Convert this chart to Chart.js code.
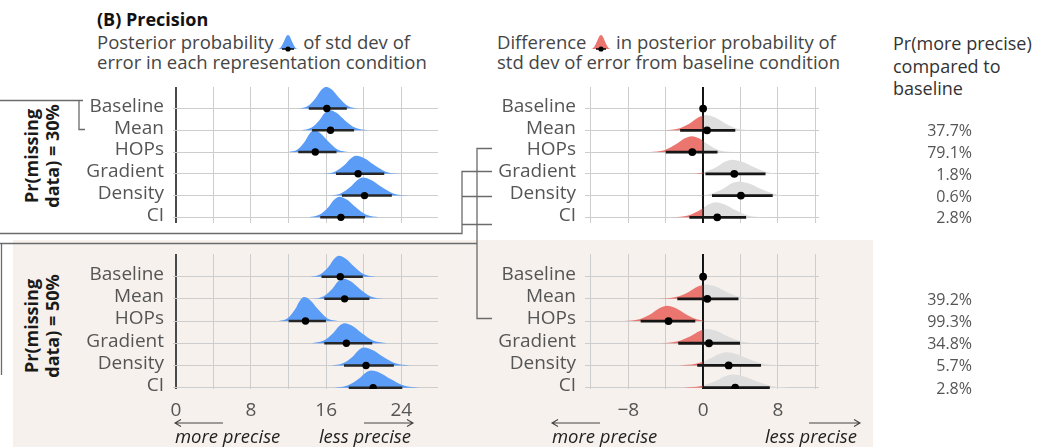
<!DOCTYPE html>
<html><head><meta charset="utf-8">
<script src="https://cdn.jsdelivr.net/npm/chart.js"></script>
<style>
body{margin:0;width:1049px;height:447px;background:#fff;position:relative;overflow:hidden;font-family:"Open Sans",Lato,sans-serif;}
.abs{position:absolute;white-space:nowrap;}
canvas{position:absolute;}
.grp{position:absolute;transform:translate(-50%,-50%) rotate(-90deg);font-weight:700;font-size:18px;line-height:21px;text-align:center;white-space:nowrap;color:#1a1a1a;}
.sub{font-size:18.5px;line-height:19.5px;color:#454545;}
.pct{position:absolute;width:100px;text-align:right;font-size:16px;color:#555;line-height:20px;}
.note{position:absolute;font-style:italic;font-size:18.5px;color:#222;white-space:nowrap;line-height:20px;}
</style></head><body>
<div class="abs" style="left:13px;top:240px;width:860px;height:207px;background:#F6F1EC"></div>

<div class="abs" style="left:97px;top:8px;font-weight:700;font-size:18px;line-height:22px;color:#111">(B) Precision</div>
<div class="abs sub" style="left:97px;top:32px">Posterior probability <svg width="20" height="18" viewBox="0 0 20 18" style="vertical-align:-3px"><path d="M0,15 C5,15 7,1 10,1 C13,1 15,15 20,15 Z" fill="#5B9CF6"/><line x1="4" y1="15" x2="16" y2="15" stroke="#000" stroke-width="1.5"/><circle cx="10" cy="15" r="2.6" fill="#000"/></svg> of std dev of<br>error in each representation condition</div>
<div class="abs sub" style="left:497px;top:32px">Difference <svg width="20" height="18" viewBox="0 0 20 18" style="vertical-align:-3px"><path d="M0,15 C5,15 7,1 10,1 C13,1 15,15 20,15 Z" fill="#EB7670"/><line x1="5" y1="15" x2="15" y2="15" stroke="#000" stroke-width="1.5"/><circle cx="10" cy="15" r="2.6" fill="#000"/></svg> in posterior probability of<br>std dev of error from baseline condition</div>
<div class="abs" style="left:893px;top:32px;font-size:18px;line-height:22.5px;color:#333">Pr(more precise)<br>compared to<br>baseline</div>

<div class="grp" style="left:42px;top:156px">Pr(missing<br>data) = 30%</div>
<div class="grp" style="left:42px;top:326px">Pr(missing<br>data) = 50%</div>

<canvas id="c30L" width="382" height="144" style="left:60px;top:83px"></canvas>
<canvas id="c30R" width="343" height="144" style="left:480px;top:83px"></canvas>
<canvas id="c50L" width="382" height="169" style="left:60px;top:250px"></canvas>
<canvas id="c50R" width="343" height="169" style="left:480px;top:250px"></canvas>

<svg class="abs" width="1049" height="447" style="left:0;top:0;pointer-events:none">
 <g stroke="#6b6b6b" stroke-width="1.3" fill="none">
  <path d="M0,100.5 H83 M79,100.5 V129.5 H85"/>
  <path d="M0,233.5 H462 V171.5 H492 M462,196.5 H492 M462,224.5 H492"/>
  <path d="M492,148.5 H477 V318.5 H492 M0,243.5 H477 M1.5,243.5 V375"/>
 </g>
 <g stroke="#444" stroke-width="1.1" fill="none">
  <path d="M175,423 H223 M181,419.5 L175,423 L181,426.5"/>
  <path d="M364,423 H413 M407,419.5 L413,423 L407,426.5"/>
  <path d="M552,423 H600 M558,419.5 L552,423 L558,426.5"/>
  <path d="M809,423 H860 M854,419.5 L860,423 L854,426.5"/>
 </g>
</svg>
<div class="note" style="left:175px;top:426px">more precise</div>
<div class="note" style="left:211px;width:200px;text-align:right;top:426px">less precise</div>
<div class="note" style="left:552px;top:426px">more precise</div>
<div class="note" style="left:657px;width:200px;text-align:right;top:426px">less precise</div>

<script>
// ---------- data ----------
const categories = ['Baseline', 'Mean', 'HOPs', 'Gradient', 'Density', 'CI'];

// Pr(missing data) = 30% : posterior of std dev of error
const p30Median = [16.07, 16.46, 14.84, 19.40, 20.08, 17.57];
const p30Lower  = [14.15, 14.50, 13.03, 17.04, 17.67, 15.37];
const p30Upper  = [18.20, 18.97, 17.10, 22.18, 22.99, 20.13];
const p30Peak   = [1.00, 0.93, 1.00, 0.83, 0.83, 0.95];
const p30Density = [
  [13.03, 14.05, 14.91, 15.47, 16.00, 16.66, 17.36, 18.32, 19.45],
  [13.36, 14.40, 15.28, 15.83, 16.35, 17.13, 17.97, 19.10, 20.43],
  [11.99, 12.94, 13.75, 14.24, 14.70, 15.42, 16.20, 17.21, 18.41],
  [15.68, 16.93, 17.98, 18.61, 19.20, 20.11, 21.08, 22.33, 23.80],
  [16.27, 17.55, 18.63, 19.29, 19.90, 20.83, 21.83, 23.13, 24.67],
  [14.10, 15.26, 16.25, 16.84, 17.40, 18.23, 19.12, 20.27, 21.63]
];

// Pr(missing data) = 50%
const p50Median = [17.50, 17.96, 13.80, 18.15, 20.24, 21.00];
const p50Lower  = [15.50, 15.80, 12.00, 15.80, 17.90, 18.40];
const p50Upper  = [19.90, 20.60, 15.97, 20.90, 23.20, 24.10];
const p50Peak   = [0.94, 0.92, 1.08, 0.90, 0.81, 0.77];
const p50Density = [
  [14.34, 15.40, 16.30, 16.84, 17.35, 18.12, 18.94, 20.01, 21.28],
  [14.55, 15.69, 16.66, 17.25, 17.80, 18.65, 19.55, 20.74, 22.15],
  [10.95, 11.90, 12.71, 13.20, 13.65, 14.36, 15.11, 16.09, 17.24],
  [14.43, 15.68, 16.73, 17.36, 17.95, 18.84, 19.80, 21.03, 22.49],
  [16.55, 17.79, 18.84, 19.44, 20.00, 20.98, 22.02, 23.35, 24.92],
  [16.88, 18.26, 19.43, 20.14, 20.80, 21.79, 22.86, 24.25, 25.90]
];

// differences from baseline, 30%
const d30Median = [0, 0.42, -1.16, 3.33, 4.04, 1.51];
const d30Lower  = [null, -2.46, -4.00, 0.25, 0.95, -1.47];
const d30Upper  = [null, 3.44, 1.54, 6.67, 7.44, 4.60];
const d30Peak   = [0, 0.70, 0.73, 0.65, 0.65, 0.69];
const d30Density = [
  null,
  [-4.14, -2.61, -1.31, -0.48, 0.30, 1.24, 2.24, 3.59, 5.19],
  [-5.66, -4.15, -2.87, -2.01, -1.20, -0.39, 0.47, 1.68, 3.12],
  [-1.54, 0.10, 1.48, 2.32, 3.10, 4.18, 5.34, 6.83, 8.60],
  [-0.86, 0.79, 2.18, 3.02, 3.80, 4.90, 6.08, 7.60, 9.40],
  [-3.20, -1.62, -0.28, 0.56, 1.35, 2.33, 3.37, 4.76, 6.41]
];

// differences from baseline, 50%
const d50Median = [0, 0.45, -3.70, 0.63, 2.73, 3.43];
const d50Lower  = [null, -2.76, -6.68, -2.66, -0.63, -0.03];
const d50Upper  = [null, 3.78, -0.84, 3.95, 6.19, 7.13];
const d50Peak   = [0, 0.65, 0.69, 0.64, 0.60, 0.59];
const d50Density = [
  null,
  [-4.63, -2.93, -1.49, -0.56, 0.30, 1.34, 2.46, 3.95, 5.72],
  [-8.41, -6.83, -5.49, -4.64, -3.85, -2.95, -1.98, -0.69, 0.83],
  [-4.58, -2.83, -1.35, -0.42, 0.45, 1.50, 2.62, 4.11, 5.87],
  [-2.57, -0.79, 0.71, 1.64, 2.50, 3.62, 4.82, 6.38, 8.22],
  [-2.06, -0.22, 1.34, 2.30, 3.20, 4.39, 5.66, 7.32, 9.29]
];

// relative heights of the density outline points (tail .. peak .. tail)
const densityProfile = [0, 0.12, 0.5, 0.85, 1, 0.85, 0.5, 0.12, 0];

const prMorePrecise30 = [null, 37.7, 79.1, 1.8, 0.6, 2.8];
const prMorePrecise50 = [null, 39.2, 99.3, 34.8, 5.7, 2.8];

// ---------- styling ----------
const FONT = '"Open Sans", Lato, sans-serif';
const GRID = '#cdcdcd';
const BLUE = '#5B9CF6';
const RED = '#EB7670';
const GREY = '#DEDEDE';

function splitFill(ctx) {
  const chart = ctx.chart, area = chart.chartArea;
  if (!area) return GREY;
  const x0 = chart.scales.x.getPixelForValue(0);
  const t = Math.min(1, Math.max(0, (x0 - area.left) / (area.right - area.left)));
  const g = chart.ctx.createLinearGradient(area.left, 0, area.right, 0);
  g.addColorStop(0, RED); g.addColorStop(t, RED);
  g.addColorStop(t, GREY); g.addColorStop(1, GREY);
  return g;
}

function drawZero(chart, opts) {
  const x = chart.scales.x.getPixelForValue(0);
  const a = chart.chartArea, c = chart.ctx;
  c.save(); c.strokeStyle = opts.color; c.lineWidth = opts.width;
  c.beginPath(); c.moveTo(x, a.top); c.lineTo(x, a.bottom); c.stroke(); c.restore();
}
const zeroLinePlugin = {
  id: 'zeroLine',
  beforeDatasetsDraw(chart) { chart.$zeroDone = false; },
  beforeDatasetDraw(chart, args, opts) {
    if (!opts || !opts.enabled || chart.$zeroDone) return;
    if (chart.data.datasets[args.index].kind === 'density') return;
    drawZero(chart, opts); chart.$zeroDone = true;
  }
};

function tickText(v) { return v % 8 === 0 ? (v < 0 ? '\u2212' + Math.abs(v) : String(v)) : ''; }

function buildPanel(id, cfg) {
  const n = categories.length;
  const rows = categories.map((c, i) => n - i);
  const datasets = [];
  categories.forEach((c, i) => {
    const xs = cfg.density[i];
    if (!xs) return;
    datasets.push({
      kind: 'density',
      data: xs.map((x, k) => ({ x: x, y: rows[i] + densityProfile[k] * cfg.peak[i] })),
      fill: { value: rows[i] }, backgroundColor: cfg.fill,
      borderWidth: 0, borderColor: 'rgba(0,0,0,0)', pointRadius: 0,
      cubicInterpolationMode: 'monotone', order: 3
    });
  });
  categories.forEach((c, i) => {
    if (cfg.lower[i] == null) return;
    datasets.push({
      kind: 'interval',
      data: [{ x: cfg.lower[i], y: rows[i] }, { x: cfg.upper[i], y: rows[i] }],
      borderColor: cfg.lineColor, borderWidth: cfg.lineWidth, pointRadius: 0,
      fill: false, order: 2
    });
  });
  datasets.push({
    kind: 'point',
    data: cfg.median.map((m, i) => ({ x: m, y: rows[i] })),
    showLine: false, pointRadius: cfg.dot, pointBackgroundColor: '#000',
    pointBorderWidth: 0, order: 1
  });
  return new Chart(document.getElementById(id), {
    type: 'line',
    data: { datasets },
    options: {
      responsive: false, animation: false, events: [],
      layout: { padding: 0 },
      plugins: {
        legend: { display: false }, tooltip: { enabled: false },
        zeroLine: { enabled: cfg.zeroOnTop, color: '#111', width: 1.6 }
      },
      scales: {
        x: {
          type: 'linear', min: cfg.xMin, max: cfg.xMax,
          afterFit: s => { s.height = cfg.xAxisH; s.paddingLeft = 0; s.paddingRight = 0; },
          border: { display: false },
          grid: {
            display: true, drawOnChartArea: true, drawTicks: false,
            color: c => (c.tick && c.tick.value === 0) ? cfg.zeroColor : GRID,
            lineWidth: c => (c.tick && c.tick.value === 0) ? cfg.zeroWidth : 1
          },
          ticks: {
            display: cfg.showX, stepSize: 4, includeBounds: false, autoSkip: false,
            maxRotation: 0, padding: 10, color: '#555',
            font: { family: FONT, size: 19 }, callback: tickText
          }
        },
        y: {
          type: 'linear', min: cfg.yMin, max: cfg.yMax,
          afterFit: s => { s.width = cfg.yAxisW; s.paddingTop = 0; s.paddingBottom = 0; },
          afterBuildTicks: a => { a.ticks = rows.map(v => ({ value: v })); },
          border: { display: false },
          grid: { display: true, drawOnChartArea: true, drawTicks: false, color: GRID, lineWidth: 1 },
          ticks: {
            autoSkip: false, padding: 9, labelOffset: -2, color: '#555',
            font: { family: FONT, size: 19 },
            callback: v => categories[n - v]
          }
        }
      }
    },
    plugins: [zeroLinePlugin]
  });
}

const leftBase = { xMin: -0.3, xMax: 27.9, yAxisW: 113, fill: BLUE, lineColor: '#262626', lineWidth: 2.5, dot: 3.7, zeroColor: '#4a4a4a', zeroWidth: 2, zeroOnTop: false };
const rightBase = { xMin: -12.63, xMax: 12.39, yAxisW: 105, fill: splitFill, lineColor: '#161616', lineWidth: 2.8, dot: 3.9, zeroColor: '#111', zeroWidth: 1.6, zeroOnTop: true };
const topRows = { yMin: 0.74, yMax: 6.99, xAxisH: 0, showX: false };
const botRows = { yMin: 0.94, yMax: 7.02, xAxisH: 30, showX: true };

const c30L = buildPanel('c30L', Object.assign({}, leftBase, topRows, { median: p30Median, lower: p30Lower, upper: p30Upper, peak: p30Peak, density: p30Density }));
const c30R = buildPanel('c30R', Object.assign({}, rightBase, topRows, { median: d30Median, lower: d30Lower, upper: d30Upper, peak: d30Peak, density: d30Density }));
const c50L = buildPanel('c50L', Object.assign({}, leftBase, botRows, { median: p50Median, lower: p50Lower, upper: p50Upper, peak: p50Peak, density: p50Density }));
const c50R = buildPanel('c50R', Object.assign({}, rightBase, botRows, { median: d50Median, lower: d50Lower, upper: d50Upper, peak: d50Peak, density: d50Density }));

function addPercents(chart, canvasTop, values) {
  const n = categories.length;
  values.forEach((v, i) => {
    if (v == null) return;
    const y = canvasTop + chart.scales.y.getPixelForValue(n - i);
    const d = document.createElement('div');
    d.className = 'pct';
    d.style.left = '872px';
    d.style.top = (y - 10) + 'px';
    d.textContent = v.toFixed(1) + '%';
    document.body.appendChild(d);
  });
}
addPercents(c30R, 83, prMorePrecise30);
addPercents(c50R, 250, prMorePrecise50);
</script>
</body></html>
